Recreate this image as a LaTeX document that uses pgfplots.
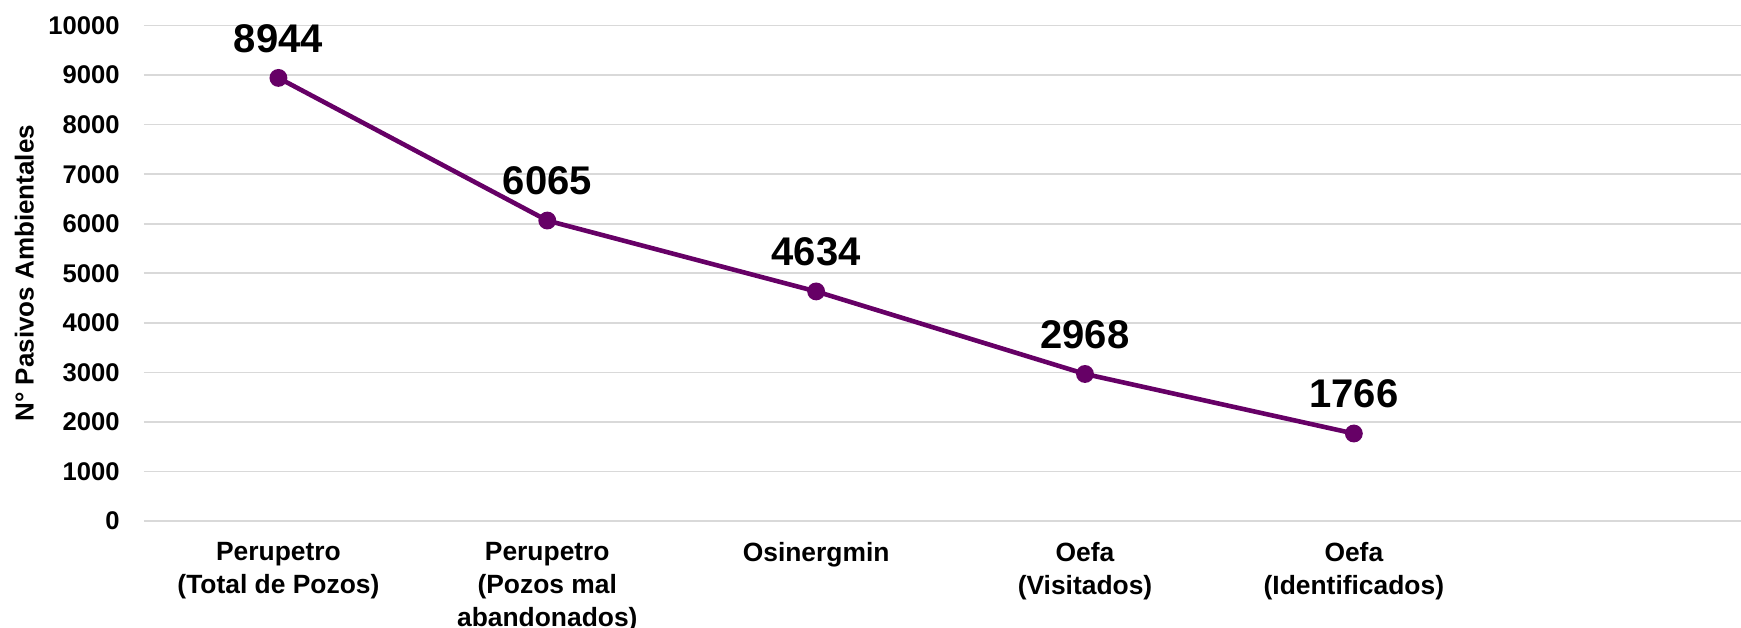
\documentclass[border=0pt]{standalone}
\usepackage{fontspec}
\setmainfont{Liberation Sans}
\usepackage{pgfplots}
\pgfplotsset{compat=1.18}
\definecolor{linepurple}{RGB}{102,0,102}
\definecolor{gridgray}{RGB}{217,217,217}
\begin{document}
\begin{tikzpicture}
\useasboundingbox (-72pt,-53pt) rectangle (798.5pt,260.5pt);
\begin{axis}[
  at={(0,0)}, anchor=south west,
  scale only axis,
  width=798.5pt, height=247.7pt,
  xmin=-0.5, xmax=5.44,
  ymin=0, ymax=10000,
  ytick={0,1000,...,10000},
  scaled y ticks=false,
  xtick={0,1,2,3,4},
  xticklabels={{Perupetro\\(Total de Pozos)},{Perupetro\\(Pozos mal\\abandonados)},{Osinergmin},{Oefa\\(Visitados)},{Oefa\\(Identificados)}},
  axis line style={draw=none},
  tick style={draw=none},
  ymajorgrids,
  major grid style={draw=gridgray, line width=0.8pt},
  /pgf/number format/assume math mode=true,
  /pgf/number format/1000 sep={},
  yticklabel style={font=\fontsize{12.8}{15}\selectfont\bfseries, anchor=east, inner sep=0pt, xshift=-12pt},
  xticklabel style={font=\fontsize{13.2}{16.6}\selectfont\bfseries, align=center, anchor=north, inner sep=0pt, yshift=-10.5pt},
  ylabel={N° Pasivos Ambientales},
  ylabel style={font=\fontsize{13}{16}\selectfont\bfseries, at={(rel axis cs:0,0.5)}, anchor=center, yshift=59.8pt},
  clip=false,
]
\addplot[color=linepurple, line width=2.3pt, mark=*, mark size=3.3pt,
  mark options={fill=linepurple, draw=linepurple},
  nodes near coords,
  nodes near coords style={font=\fontsize{20}{24}\selectfont\bfseries, text=black, anchor=south, inner sep=0pt, yshift=11.5pt}]
  coordinates {(0,8944) (1,6065) (2,4634) (3,2968) (4,1766)};
\end{axis}
\end{tikzpicture}
\end{document}
